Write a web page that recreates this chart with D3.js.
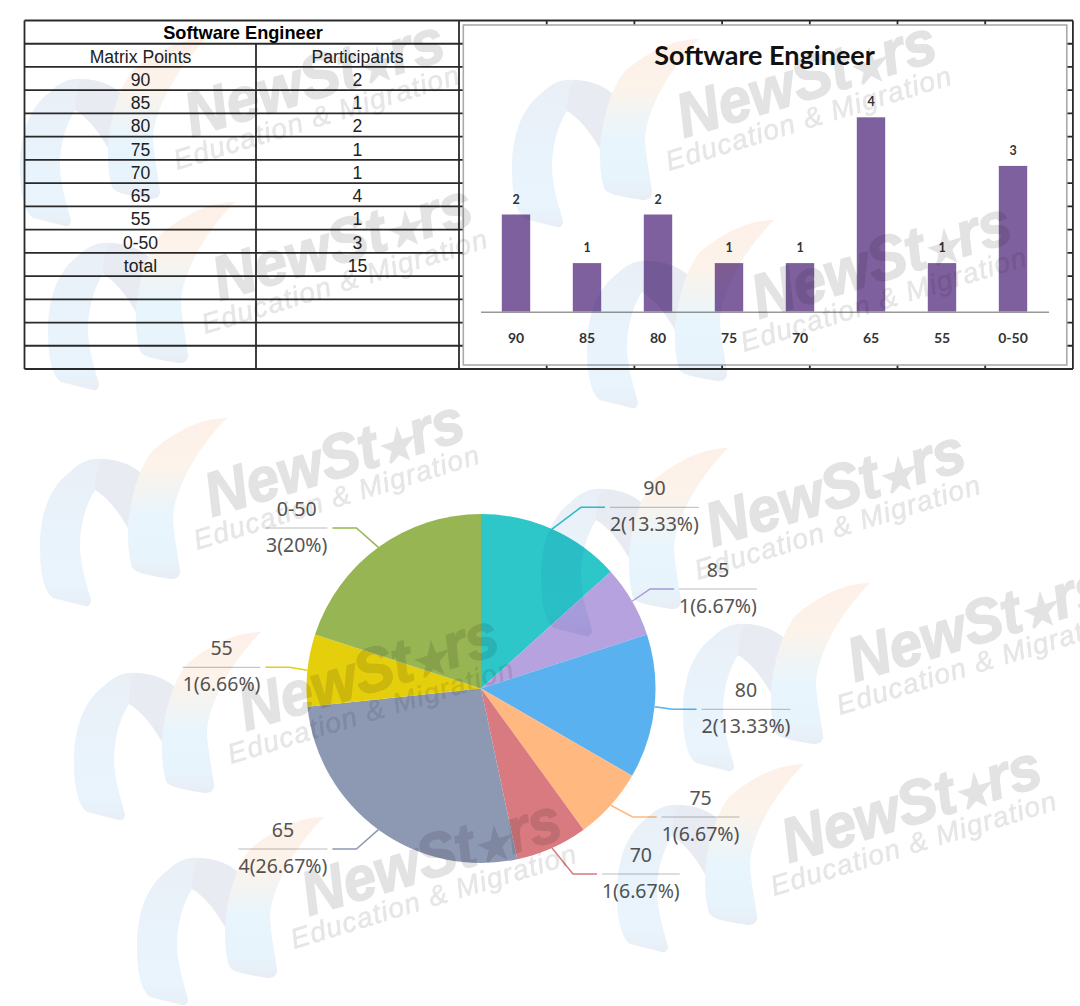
<!DOCTYPE html>
<html>
<head>
<meta charset="utf-8">
<script src="https://d3js.org/d3.v7.min.js"></script>
<style>
body { margin: 0; background: #fff; }
svg { display: block; }
.grid line { stroke: #2a2a2a; stroke-width: 1.8px; }
.cell { font-family: "Liberation Sans", Arial, sans-serif; font-size: 17.6px; fill: #222; text-anchor: middle; }
.bar-title { font-family: Lato, sans-serif; font-weight: 700; font-size: 27px; fill: #111; text-anchor: middle; }
.bar-value { font-family: Lato, sans-serif; font-weight: 700; font-size: 12.5px; fill: #333; text-anchor: middle; }
.bar-axis text { font-family: Lato, sans-serif; font-weight: 700; font-size: 14px; fill: #333; }
.bar-axis path { stroke: #999; stroke-width: 1.6px; }
.pie-label { font-family: "Noto Sans", sans-serif; font-size: 19.5px; fill: #555; }
.wm-name { font-family: "Liberation Sans", sans-serif; font-weight: 700; font-style: italic; font-size: 62px; fill: #e3e3e3; stroke: #e3e3e3; stroke-width: 1.6px; }
.wm-star { font-size: 40px; }
.wm-sub { font-family: "Liberation Sans", sans-serif; font-style: italic; font-size: 28px; fill: #e6e6e6; stroke: #e6e6e6; stroke-width: 0.5px; }
</style>
</head>
<body>
<script>
var width = 1080, height = 1006;

// chart data
var title = "Software Engineer";
var columns = ["Matrix Points", "Participants"];
var points = ["90", "85", "80", "75", "70", "65", "55", "0-50"];
var participants = [2, 1, 2, 1, 1, 4, 1, 3];
var percents = ["13.33", "6.67", "13.33", "6.67", "6.67", "26.67", "6.66", "20"];
var total = 15;
var pieColors = ["#2ec7c9", "#b6a2de", "#5ab1ef", "#ffb980", "#d87a80", "#8d98b3", "#e5cf0d", "#97b552"];

// leader line layout for the pie labels
var leaderY = [507.3, 589, 709.3, 817, 874, 849, 667.3, 528];
var bendOut = [29, 18, 18, 22, 21, 22, 18, 22];

// watermark origins
var stamps = [[10, 20], [38, 184], [502, 21], [577, 202], [30, 400], [531, 430], [64, 614], [673, 565], [127, 799], [607, 746]];

var svg = d3.select("body").append("svg")
    .attr("width", width)
    .attr("height", height);

// spreadsheet grid
var rowCount = 15;
var rowY = d3.scaleLinear().domain([0, rowCount]).range([20.5, 369]);
var colX = [24.5, 256, 459];
var tickX = d3.range(1, 8).map(function(i) { return 459 + i * 87.7; });

var grid = svg.append("g").attr("class", "grid");
d3.range(rowCount + 1).forEach(function(i) {
  grid.append("line").attr("x1", 24.5).attr("x2", 1073).attr("y1", rowY(i)).attr("y2", rowY(i));
});
colX.concat(tickX).forEach(function(x, i) {
  grid.append("line")
    .attr("x1", x).attr("x2", x)
    .attr("y1", x == 256 ? rowY(1) : rowY(0))
    .attr("y2", rowY(rowCount));
});

function cell(col, row, txt) {
  svg.append("text").attr("class", "cell")
    .attr("x", col == 0 ? 140.5 : 357.5)
    .attr("y", rowY(row) + 19)
    .text(txt);
}
svg.append("text").attr("class", "cell")
  .attr("x", 243).attr("y", rowY(0) + 18)
  .style("font-weight", 700).style("font-size", "18.2px").style("fill", "#000")
  .text(title);
columns.forEach(function(c, i) { cell(i, 1, c); });
points.forEach(function(p, i) {
  cell(0, i + 2, p);
  cell(1, i + 2, participants[i]);
});
cell(0, 10, "total");
cell(1, 10, total);

// bar chart panel
svg.append("rect")
  .attr("x", 463.3).attr("y", 25)
  .attr("width", 603.5).attr("height", 340)
  .attr("fill", "#fff")
  .attr("stroke", "#aaa")
  .attr("stroke-width", 1.6);

svg.append("text").attr("class", "bar-title")
  .attr("x", 764.5).attr("y", 65)
  .text(title);

var x = d3.scaleBand().domain(points).range([480.5, 1048.5]).paddingInner(0.6).paddingOuter(0.3);
var y = d3.scaleLinear().domain([0, 4]).range([311.7, 117.3]);

svg.selectAll(".bar")
  .data(participants)
  .enter().append("rect")
  .attr("class", "bar")
  .attr("x", function(d, i) { return x(points[i]); })
  .attr("y", function(d) { return y(d); })
  .attr("width", x.bandwidth())
  .attr("height", function(d) { return y(0) - y(d); })
  .attr("fill", "#7f609f");

svg.selectAll(".bar-value")
  .data(participants)
  .enter().append("text")
  .attr("class", "bar-value")
  .attr("x", function(d, i) { return x(points[i]) + x.bandwidth() / 2; })
  .attr("y", function(d) { return y(d) - 11; })
  .text(function(d) { return d; });

var axis = svg.append("g")
  .attr("class", "bar-axis")
  .attr("transform", "translate(0," + y(0) + ")")
  .call(d3.axisBottom(x).tickSize(0).tickSizeOuter(0).tickPadding(21));
axis.select(".domain").attr("fill", "none");

// pie chart
var cx = 481, cy = 688.5, radius = 174.5;
var pie = d3.pie().sort(null)(participants);
var arc = d3.arc().innerRadius(0).outerRadius(radius);

svg.selectAll(".slice")
  .data(pie)
  .enter().append("path")
  .attr("class", "slice")
  .attr("transform", "translate(" + cx + "," + cy + ")")
  .attr("d", arc)
  .attr("fill", function(d, i) { return pieColors[i]; });

pie.forEach(function(d, i) {
  var mid = (d.startAngle + d.endAngle) / 2;
  var sx = cx + Math.sin(mid) * radius,
      sy = cy - Math.cos(mid) * radius;
  var side = Math.sin(mid) > 0 ? 1 : -1;
  var bx = sx + side * bendOut[i],
      ly = leaderY[i],
      ex = bx + side * 24;

  svg.append("path")
    .attr("d", d3.line()([[sx, sy], [bx, ly], [ex, ly]]))
    .attr("fill", "none")
    .attr("stroke", pieColors[i])
    .attr("stroke-width", 1.5);

  var lower = svg.append("text").attr("class", "pie-label")
    .attr("y", ly + 23.5)
    .text(d.value + "(" + percents[i] + "%)");
  var w = lower.node().getComputedTextLength();
  var left = side > 0 ? ex + 5 : ex - 5 - w;
  lower.attr("x", left);

  svg.append("line")
    .attr("x1", left).attr("x2", left + w)
    .attr("y1", ly).attr("y2", ly)
    .attr("stroke", "#bbb")
    .attr("stroke-width", 1);

  svg.append("text").attr("class", "pie-label")
    .attr("x", left + w / 2)
    .attr("y", ly - 12)
    .attr("text-anchor", "middle")
    .text(points[i]);
});

// watermarks
var defs = svg.append("defs");
function gradient(id, stops) {
  var g = defs.append("linearGradient").attr("id", id)
    .attr("x1", 0).attr("x2", 0).attr("y1", 0).attr("y2", 1);
  stops.forEach(function(s) {
    g.append("stop").attr("offset", s[0]).attr("stop-color", s[1]);
  });
}
gradient("crescent", [[0, "#fdf0e8"], [0.3, "#fcf3ea"], [0.6, "#e9f5fc"], [0.85, "#e8f4fc"], [1, "#e8edf5"]]);
gradient("arch", [[0, "#eaeff6"], [0.5, "#e9f3fb"], [0.85, "#e9f4fc"], [1, "#e8eef6"]]);

var stampLayer = svg.append("g").style("mix-blend-mode", "multiply");
stamps.forEach(function(s) {
  var g = stampLayer.append("g")
    .attr("transform", "translate(" + s[0] + "," + s[1] + ")");
  g.append("path")
    .attr("fill", "url(#arch)")
    .attr("d", "M23,198 C12,190 10,165 10,147 C10,110 22,85 40,72 C50,62 60,58 72,59 C90,60 102,65 112,74 L98,128 C88,110 76,96 65,90 C56,104 50,125 50,145 C50,165 57,185 61,200 C61,205 58,207 55,206 Z");
  g.append("path")
    .attr("fill", "#e9ebf2")
    .attr("d", "M65,90 C76,96 88,110 98,128 L112,74 C102,65 90,60 72,59 C66,68 65,80 65,90 Z");
  g.append("path")
    .attr("fill", "url(#crescent)")
    .attr("d", "M197,18 C170,18 145,32 123,50 C108,68 98,105 98,135 C98,150 100,160 102,167 C105,172 110,174 140,179 C148,180 151,174 150,170 C147,150 143,130 143,116 C146,85 170,45 197,18 Z");
  var name = g.append("text").attr("class", "wm-name")
    .attr("transform", "translate(182,117) rotate(-17)")
    .attr("textLength", 268)
    .attr("lengthAdjust", "spacingAndGlyphs");
  name.append("tspan").text("NewSt");
  name.append("tspan").attr("class", "wm-star").text("\u2605");
  name.append("tspan").text("rs");
  g.append("text").attr("class", "wm-sub")
    .attr("transform", "translate(167,150) rotate(-17)")
    .attr("textLength", 297)
    .text("Education & Migration");
});
</script>
</body>
</html>
